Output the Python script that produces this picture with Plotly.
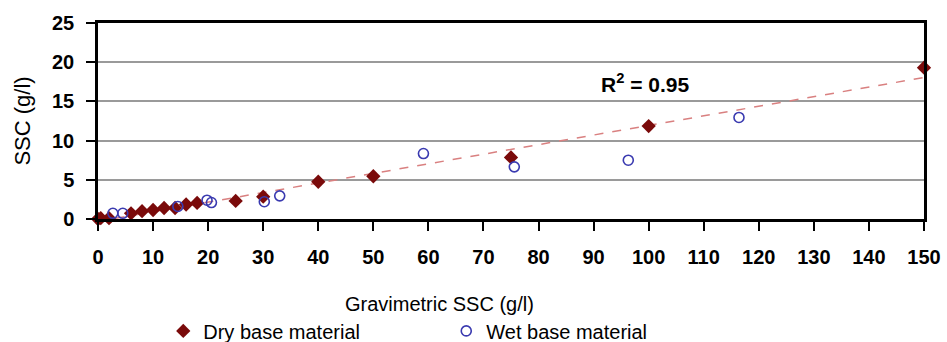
import plotly.graph_objects as go

# Data
dry_x = [0, 0.5, 2, 6, 8, 10, 12, 14, 16, 18, 25, 30, 40, 50, 75, 100, 150]
dry_y = [0, 0.1, 0.1, 0.73, 1.0, 1.15, 1.4, 1.4, 1.85, 2.05, 2.3, 2.85, 4.75, 5.45, 7.85, 11.85, 19.3]

wet_x = [2.7, 4.5, 14.5, 19.8, 20.6, 30.2, 33.0, 59.1, 75.6, 96.3, 116.4]
wet_y = [0.73, 0.73, 1.6, 2.4, 2.1, 2.2, 2.95, 8.35, 6.65, 7.5, 12.95]

trend_x = [0, 150]
trend_y = [-0.3, 18.05]

x_ticks = list(range(0, 151, 10))
y_ticks = [0, 5, 10, 15, 20, 25]

FONT = "Liberation Sans, Arial, sans-serif"

fig = go.Figure()
fig.add_trace(go.Scatter(
    x=trend_x, y=trend_y, mode="lines",
    line=dict(color="#d98080", width=1.5, dash="dash"),
    showlegend=False, hoverinfo="skip", cliponaxis=True,
))
fig.add_trace(go.Scatter(
    x=dry_x, y=dry_y, mode="markers", name="Dry base material",
    marker=dict(symbol="diamond", size=11, color="#7a0a0a"),
    cliponaxis=False,
))
fig.add_trace(go.Scatter(
    x=wet_x, y=wet_y, mode="markers", name="Wet base material",
    marker=dict(symbol="circle-open", size=10, color="#3a3ab0", line=dict(width=1.6)),
    cliponaxis=False,
))

fig.add_annotation(
    x=91, y=17.3, xref="x", yref="y", xanchor="left", yanchor="middle",
    text="<b>R<sup>2</sup> = 0.95</b>", showarrow=False,
    font=dict(family=FONT, size=21, color="black"),
)
fig.add_annotation(
    x=0.414, y=-0.435, xref="paper", yref="paper", xanchor="center", yanchor="middle",
    text="Gravimetric SSC (g/l)", showarrow=False,
    font=dict(family=FONT, size=20, color="black"),
)

fig.update_xaxes(
    range=[0, 150], tickvals=x_ticks, ticks="outside", ticklen=9, tickwidth=2,
    tickcolor="black", showline=True, linecolor="black", linewidth=2.5, mirror=True,
    showgrid=False, zeroline=False, ticklabelstandoff=9,
    tickfont=dict(family=FONT, size=20, color="black", weight="bold"),
)
fig.update_yaxes(
    range=[0, 25], tickvals=y_ticks, ticks="outside", ticklen=9, tickwidth=2,
    tickcolor="black", showline=True, linecolor="black", linewidth=2.5, mirror=True,
    showgrid=True, gridcolor="#9a9a9a", gridwidth=1.5, zeroline=False,
    ticklabelstandoff=8,
    tickfont=dict(family=FONT, size=20, color="black", weight="bold"),
    title=dict(text="SSC (g/l)", font=dict(family=FONT, size=22, color="black"), standoff=16),
)

fig.update_layout(
    width=947, height=342,
    margin=dict(l=98, r=23, t=23, b=123, autoexpand=False),
    plot_bgcolor="white", paper_bgcolor="white",
    legend=dict(
        orientation="h", x=0.079, y=-0.571, xanchor="left", yanchor="middle",
        font=dict(family=FONT, size=20, color="black"),
        entrywidth=238, entrywidthmode="pixels", itemsizing="trace",
        bgcolor="rgba(0,0,0,0)",
    ),
)

fig.write_html("out.html")
